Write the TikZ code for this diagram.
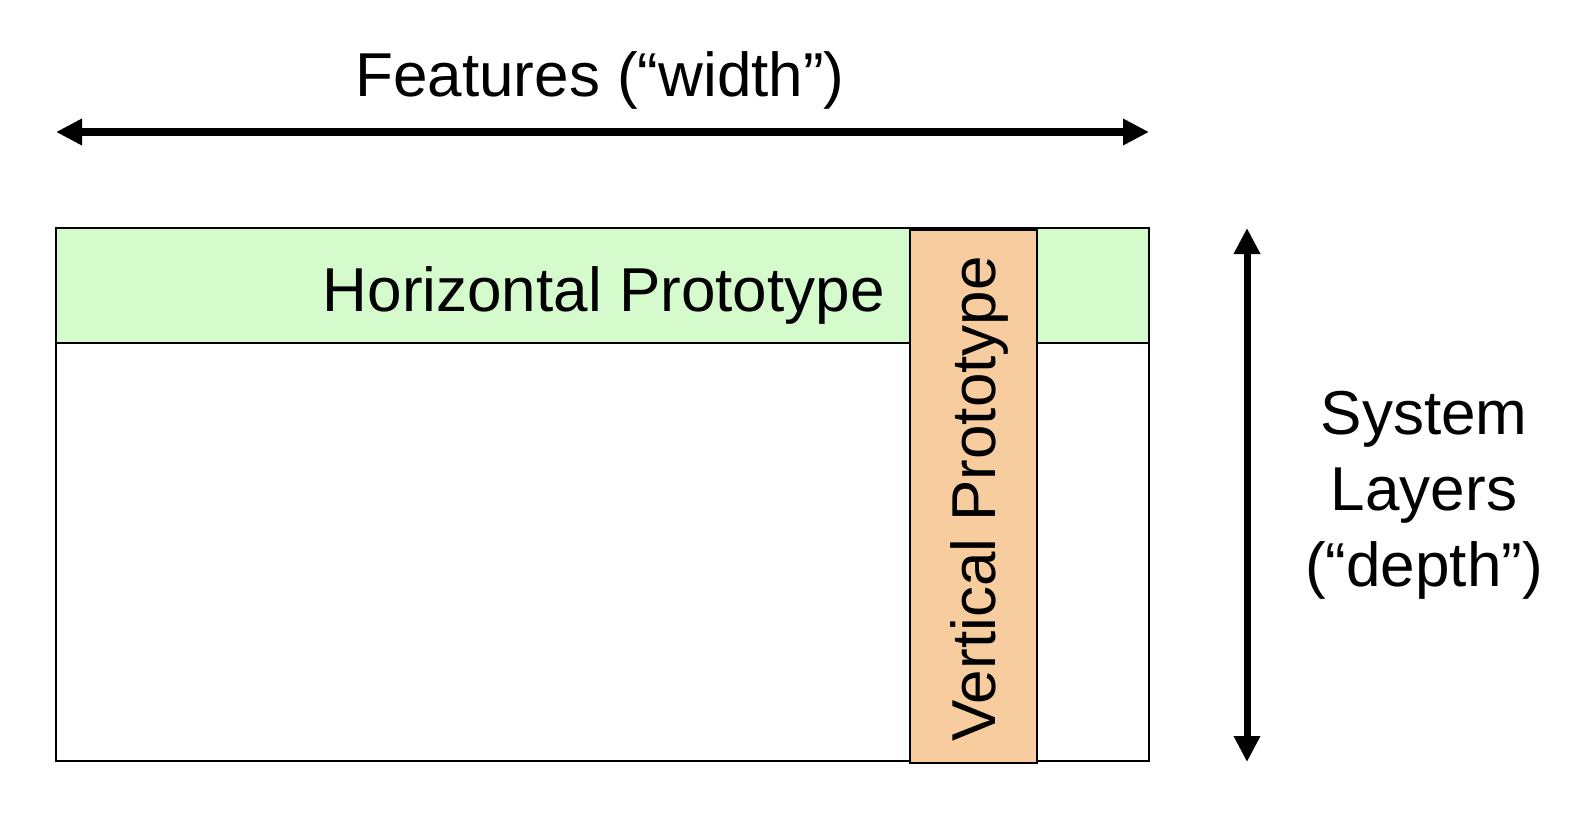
\documentclass[tikz,border=0pt]{standalone}
\usepackage{fontspec}
\setmainfont{Liberation Sans}
\usetikzlibrary{arrows.meta,positioning}
\definecolor{bandgreen}{RGB}{213,251,205}
\definecolor{striporange}{RGB}{247,205,159}

\begin{document}
\begin{tikzpicture}[x=0.5pt,y=-0.5pt,
    lbl/.style={font=\fontsize{31}{38}\selectfont,align=center,inner sep=0pt},
    dimarrow/.style={{Triangle[length=13pt,width=12.5pt]}-{Triangle[length=13pt,width=12.5pt]},line width=4pt},
    layer/.style={draw=black,line width=1pt}]
  \useasboundingbox (0,0) rectangle (1584,824);
  % boxes
  \filldraw[layer,fill=white] (56,228) rectangle (1149,761);
  \filldraw[layer,fill=bandgreen] (56,228) rectangle (1149,343);
  \filldraw[layer,fill=striporange] (910,230) rectangle (1037,763);
  % labels
  \node[lbl,anchor=base] (width) at (600,97) {Features (“width”)};
  \node[lbl,anchor=base east] (hproto) at (885,311) {Horizontal Prototype};
  \node[lbl,anchor=base,rotate=90] (vproto) at (995,499) {Vertical Prototype};
  \node[lbl,anchor=base] (depth) at (1424,586) {System\\Layers\\(“depth”)};
  % dimension arrows
  \coordinate (wl) at (56,132); \coordinate (wr) at (1149,132);
  \coordinate (dt) at (1247,228); \coordinate (db) at (1247,762);
  \draw[dimarrow] (wl) -- (wr);
  \draw[dimarrow,line width=3.5pt] (dt) -- (db);
\end{tikzpicture}
\end{document}
